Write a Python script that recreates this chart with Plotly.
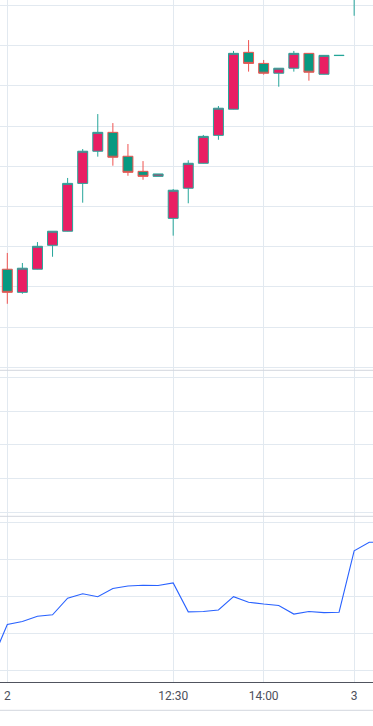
import plotly.graph_objects as go

# ---- data ----
candle_x = list(range(0, 25))
opens  = [19.488, 19.373, 19.488, 19.607, 19.677, 19.915, 20.075, 20.169, 20.050, 19.975,
          19.950, 19.741, 19.891, 20.015, 20.154, 20.284, 20.567, 20.512, 20.463, 20.488,
          20.562, 20.458, 20.551, 20.860, 20.950]
highs  = [19.569, 19.519, 19.623, 19.677, 19.942, 20.086, 20.260, 20.215, 20.111, 20.026,
          19.962, 19.887, 20.030, 20.156, 20.300, 20.574, 20.628, 20.529, 20.488, 20.574,
          20.563, 20.553, 20.553, 20.990, 21.050]
lows   = [19.316, 19.366, 19.487, 19.550, 19.676, 19.819, 20.048, 20.003, 19.953, 19.933,
          19.950, 19.655, 19.816, 20.014, 20.132, 20.283, 20.471, 20.456, 20.396, 20.471,
          20.426, 20.457, 20.551, 20.749, 20.900]
closes = [19.373, 19.493, 19.602, 19.677, 19.915, 20.075, 20.169, 20.045, 19.970, 19.950,
          19.962, 19.881, 20.015, 20.149, 20.289, 20.562, 20.512, 20.463, 20.488, 20.562,
          20.468, 20.552, 20.552, 20.960, 21.020]

ind_x = list(range(-1, 26))
ind_values = [32.7, 42.4, 43.2, 44.6, 45.0, 49.5, 50.7, 49.9, 52.1, 52.8,
              53.0, 52.9, 53.6, 45.8, 45.9, 46.3, 49.9, 48.4, 47.9, 47.5,
              45.2, 45.9, 45.6, 45.7, 62.3, 64.6, 64.6]

tick_pos = [0, 11, 17, 23]
tick_text = ["2", "12:30", "14:00", "3"]

GRID = "#e2e9f0"
SEP = "#d3d6de"

fig = go.Figure()
fig.add_trace(go.Candlestick(
    x=candle_x, open=opens, high=highs, low=lows, close=closes,
    increasing=dict(line=dict(color="#26a69a", width=1), fillcolor="#e91e63"),
    decreasing=dict(line=dict(color="#ef5350", width=1), fillcolor="#089981"),
    xaxis="x", yaxis="y", hoverinfo="skip", showlegend=False,
))
fig.add_trace(go.Scatter(x=[None], y=[None], xaxis="x", yaxis="y2",
                         mode="lines", showlegend=False, hoverinfo="skip"))
fig.add_trace(go.Scatter(
    x=ind_x, y=ind_values, mode="lines",
    line=dict(color="#2962ff", width=1.1),
    xaxis="x", yaxis="y3", hoverinfo="skip", showlegend=False,
))

d1 = (682 - 370.3) / 682
d2 = (682 - 516.3) / 682

fig.update_layout(
    width=373, height=726,
    margin=dict(l=0, r=0, t=0, b=44),
    paper_bgcolor="white", plot_bgcolor="white",
    font=dict(family="Roboto, Arial, sans-serif", size=12, color="#4d505b"),
    boxgap=0.34, boxgroupgap=0,
    showlegend=False,
    xaxis=dict(
        range=[-0.484, 24.25], anchor="y3",
        tickmode="array", tickvals=tick_pos, ticktext=tick_text,
        showgrid=True, gridcolor=GRID, gridwidth=1,
        showline=True, linecolor="#50535e", linewidth=1,
        ticks="outside", ticklen=3, tickcolor="rgba(0,0,0,0)",
        zeroline=False, rangeslider=dict(visible=False),
        tickfont=dict(size=12, color="#4d505b"),
    ),
    yaxis=dict(domain=[d1, 1], range=[18.9851, 20.8274], dtick=0.2, tick0=19.0,
               showticklabels=False, showgrid=True, gridcolor=GRID, zeroline=False),
    yaxis2=dict(domain=[d2, d1], range=[-0.1185, 4.2074], dtick=1, tick0=0,
                showticklabels=False, showgrid=True, gridcolor=GRID, zeroline=False),
    yaxis3=dict(domain=[0, d2], range=[26.838, 71.622], dtick=10, tick0=30,
                showticklabels=False, showgrid=True, gridcolor=GRID, zeroline=False),
    shapes=[
        dict(type="line", xref="paper", yref="paper", x0=0, x1=1, y0=d1, y1=d1,
             line=dict(color=SEP, width=1)),
        dict(type="line", xref="paper", yref="paper", x0=0, x1=1, y0=d2, y1=d2,
             line=dict(color=SEP, width=1)),
        dict(type="line", xref="paper", yref="paper", x0=0, x1=1,
             y0=(682 - 710.3) / 682, y1=(682 - 710.3) / 682,
             line=dict(color=SEP, width=1)),
    ],
)

fig.write_html(
    "out.html",
    config={"displayModeBar": False},
    post_script="document.body.style.margin='0px';document.body.style.overflow='hidden';",
)
